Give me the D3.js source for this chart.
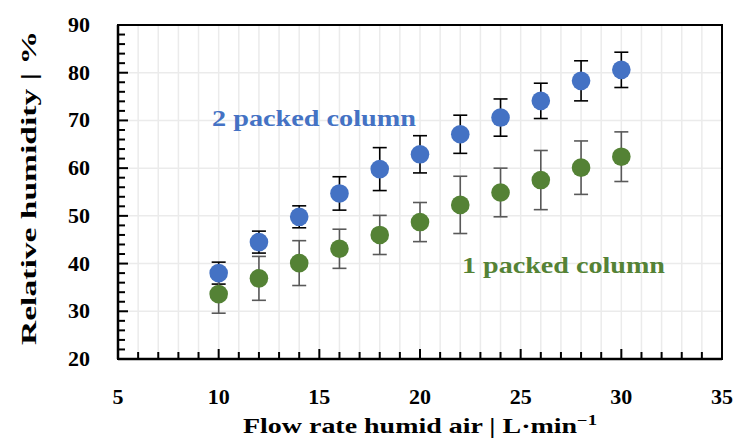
<!DOCTYPE html>
<html>
<head>
<meta charset="utf-8">
<script src="https://cdn.jsdelivr.net/npm/d3@7"></script>
<style>
  body { margin: 0; background: #fff; }
  svg { display: block; }
  text { font-family: "Palatino Linotype", "Book Antiqua", "Liberation Serif", serif; font-weight: bold; }
</style>
</head>
<body>
<div id="chart"></div>
<script>
// flow rate of humid air, L/min
const flow = [10, 12, 14, 16, 18, 20, 22, 24, 26, 28, 30]
// 2 packed column
const rh2 = [38.0, 44.5, 49.8, 54.7, 59.8, 62.9, 67.1, 70.6, 74.1, 78.3, 80.6]
const err2 = [2.3, 2.3, 2.3, 3.5, 4.5, 3.9, 4.0, 3.9, 3.7, 4.2, 3.7]
// 1 packed column
const rh1 = [33.6, 36.9, 40.1, 43.1, 46.0, 48.7, 52.3, 54.9, 57.5, 60.1, 62.4]
const err1 = [4.0, 4.6, 4.7, 4.1, 4.1, 4.1, 6.0, 5.1, 6.2, 5.6, 5.2]

const xTicks = [5, 10, 15, 20, 25, 30, 35]
const yTicks = [20, 30, 40, 50, 60, 70, 80, 90]

const W = 736, H = 444
const m = {left: 118, right: 14, top: 25, bottom: 85}

const x = d3.scaleLinear().domain([5, 35]).range([m.left, W - m.right])
const y = d3.scaleLinear().domain([20, 90]).range([H - m.bottom, m.top])

const svg = d3.select("#chart").append("svg")
    .attr("width", W)
    .attr("height", H)

// grid
const grid = svg.append("g")
grid.selectAll("line.v")
    .data(d3.range(6, 35))
    .enter().append("line")
    .attr("x1", d => x(d)).attr("x2", d => x(d))
    .attr("y1", y(20)).attr("y2", y(90))
    .style("stroke", "#ebebeb").style("stroke-width", 1.5)
grid.selectAll("line.h")
    .data(d3.range(30, 90, 10))
    .enter().append("line")
    .attr("x1", x(5)).attr("x2", x(35))
    .attr("y1", d => y(d)).attr("y2", d => y(d))
    .style("stroke", "#ebebeb").style("stroke-width", 1.5)

// frame
svg.append("rect")
    .attr("x", x(5)).attr("y", y(90))
    .attr("width", x(35) - x(5)).attr("height", y(20) - y(90))
    .style("fill", "none").style("stroke", "#000").style("stroke-width", 2)

// y axis (ticks inward)
const yAxis = svg.append("g").attr("transform", "translate(" + x(5) + ",0)")
yAxis.selectAll("line")
    .data(d3.range(20, 91, 2))
    .enter().append("line")
    .attr("x1", 0).attr("x2", d => d % 10 == 0 ? 10 : 7)
    .attr("y1", d => y(d)).attr("y2", d => y(d))
    .style("stroke", "#000").style("stroke-width", 2)
yAxis.append("line")
    .attr("y1", y(20)).attr("y2", y(90))
    .style("stroke", "#000").style("stroke-width", 2.5)
yAxis.selectAll("text")
    .data(yTicks)
    .enter().append("text")
    .attr("x", -28).attr("y", d => y(d) + 7)
    .attr("text-anchor", "end")
    .style("font-size", "22px")
    .text(d => d)

// x axis (ticks inward)
const xAxis = svg.append("g").attr("transform", "translate(0," + y(20) + ")")
xAxis.selectAll("line")
    .data(d3.range(5, 36, 1))
    .enter().append("line")
    .attr("y1", 0).attr("y2", d => d % 5 == 0 ? -10 : -7)
    .attr("x1", d => x(d)).attr("x2", d => x(d))
    .style("stroke", "#000").style("stroke-width", 2)
xAxis.append("line")
    .attr("x1", x(5)).attr("x2", x(35))
    .style("stroke", "#000").style("stroke-width", 2.5)
xAxis.selectAll("text")
    .data(xTicks)
    .enter().append("text")
    .attr("x", d => x(d)).attr("y", 45)
    .attr("text-anchor", "middle")
    .style("font-size", "22px")
    .text(d => d)

// axis titles
const xt = svg.append("text")
    .attr("x", 420).attr("y", 433)
    .attr("text-anchor", "middle")
    .attr("textLength", 354).attr("lengthAdjust", "spacingAndGlyphs")
    .style("font-size", "21px")
xt.append("tspan").text("Flow rate humid air | L·min")
xt.append("tspan").attr("dy", -8).style("font-size", "14px").text("−1")

svg.append("text")
    .attr("transform", "translate(36,188) rotate(-90)")
    .attr("text-anchor", "middle")
    .attr("textLength", 314).attr("lengthAdjust", "spacingAndGlyphs")
    .style("font-size", "21px")
    .text("Relative humidity | %")

// series
function drawSeries(vals, errs, color, barColor) {
    const g = svg.append("g")
    const pts = flow.map((f, i) => ({x: f, y: vals[i], e: errs[i]}))
    const bars = g.selectAll("g.bar").data(pts).enter().append("g")
        .style("stroke", barColor).style("stroke-width", 1.6)
    bars.append("line")
        .attr("x1", d => x(d.x)).attr("x2", d => x(d.x))
        .attr("y1", d => y(d.y - d.e)).attr("y2", d => y(d.y + d.e))
    bars.append("line")
        .attr("x1", d => x(d.x) - 7).attr("x2", d => x(d.x) + 7)
        .attr("y1", d => y(d.y - d.e)).attr("y2", d => y(d.y - d.e))
    bars.append("line")
        .attr("x1", d => x(d.x) - 7).attr("x2", d => x(d.x) + 7)
        .attr("y1", d => y(d.y + d.e)).attr("y2", d => y(d.y + d.e))
    return {g, pts}
}
const s2 = drawSeries(rh2, err2, "#4472C4", "#000")
const s1 = drawSeries(rh1, err1, "#548235", "#595959")

svg.append("g").selectAll("circle").data(s2.pts).enter().append("circle")
    .attr("cx", d => x(d.x)).attr("cy", d => y(d.y)).attr("r", 9.3)
    .style("fill", "#4472C4")
svg.append("g").selectAll("circle").data(s1.pts).enter().append("circle")
    .attr("cx", d => x(d.x)).attr("cy", d => y(d.y)).attr("r", 9.3)
    .style("fill", "#548235")

// series labels
svg.append("text")
    .attr("x", 212).attr("y", 126)
    .attr("textLength", 204).attr("lengthAdjust", "spacingAndGlyphs")
    .style("font-size", "23px").style("fill", "#4472C4")
    .text("2 packed column")
svg.append("text")
    .attr("x", 462).attr("y", 273)
    .attr("textLength", 203).attr("lengthAdjust", "spacingAndGlyphs")
    .style("font-size", "23px").style("fill", "#548235")
    .text("1 packed column")
</script>
</body>
</html>
